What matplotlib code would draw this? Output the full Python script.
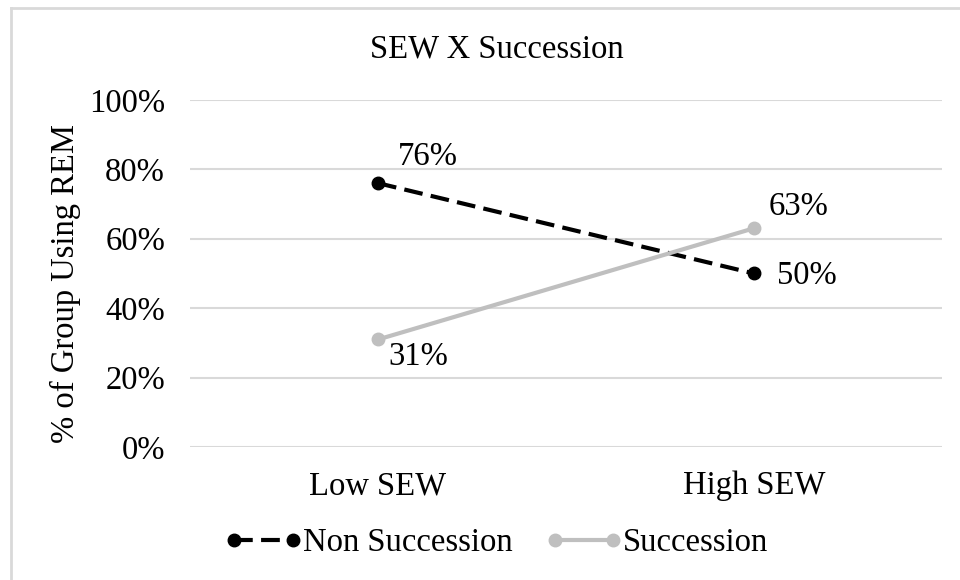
import matplotlib.pyplot as plt
from matplotlib.lines import Line2D

## chart data
categories = ['Low SEW', 'High SEW']
non_succession = [76, 50]
succession = [31, 63]
y_ticks = [0, 20, 40, 60, 80, 100]

plt.rcParams['font.family'] = ['Liberation Serif', 'DejaVu Serif']
FS = 23.5

fig = plt.figure(figsize=(9.6, 5.8), dpi=100)
ax = fig.add_axes([0.198, 0.229, 0.783, 0.599])

x = [0, 1]
ax.plot(x, non_succession, color='black', linestyle=(0, (4.5, 2)), linewidth=3,
        marker='o', markersize=9, label='Non Succession')
ax.plot(x, succession, color='#BFBFBF', linewidth=3,
        marker='o', markersize=9, label='Succession')

## data labels (placed like the Excel chart)
label_offsets = {
    ('ns', 0): (20, 26), ('ns', 1): (23, -2),
    ('s', 0): (10, -17), ('s', 1): (15, 22),
}
for i, v in enumerate(non_succession):
    dx, dy = label_offsets[('ns', i)]
    ax.annotate('{}%'.format(v), (x[i], v), xytext=(dx, dy), textcoords='offset pixels',
                ha='left', va='center', fontsize=FS)
for i, v in enumerate(succession):
    dx, dy = label_offsets[('s', i)]
    ax.annotate('{}%'.format(v), (x[i], v), xytext=(dx, dy), textcoords='offset pixels',
                ha='left', va='center', fontsize=FS)

ax.set_xlim(-0.5, 1.5)
ax.set_ylim(0, 100)
ax.set_xticks(x)
ax.set_xticklabels(categories, fontsize=FS)
ax.set_yticks(y_ticks)
ax.set_yticklabels(['{}%'.format(t) for t in y_ticks], fontsize=FS)
ax.tick_params(axis='x', length=0, pad=17)
ax.tick_params(axis='y', length=0, pad=18)
ax.grid(axis='y', color='#D9D9D9', linewidth=1.5)
ax.set_axisbelow(True)
for s in ax.spines.values():
    s.set_visible(False)
ax.set_ylabel('% of Group Using REM', fontsize=FS)
ax.yaxis.set_label_coords(-0.145, 0.47)

fig.text(0.517, 0.9, 'SEW X Succession', ha='center', va='baseline', fontsize=FS)

fig.legend(loc='center', bbox_to_anchor=(0.517, 0.064), ncol=2, frameon=False,
           fontsize=FS, handlelength=2.4, handletextpad=0.0, columnspacing=1.0,
           numpoints=2)

## light grey chart border (top and left visible)
fig.add_artist(Line2D([11 / 960, 11 / 960], [0, 1 - 8 / 580], color='#D9D9D9', linewidth=2,
                      transform=fig.transFigure))
fig.add_artist(Line2D([11 / 960, 1], [1 - 8 / 580, 1 - 8 / 580], color='#D9D9D9', linewidth=2,
                      transform=fig.transFigure))

fig.savefig('out.png', dpi=100)
